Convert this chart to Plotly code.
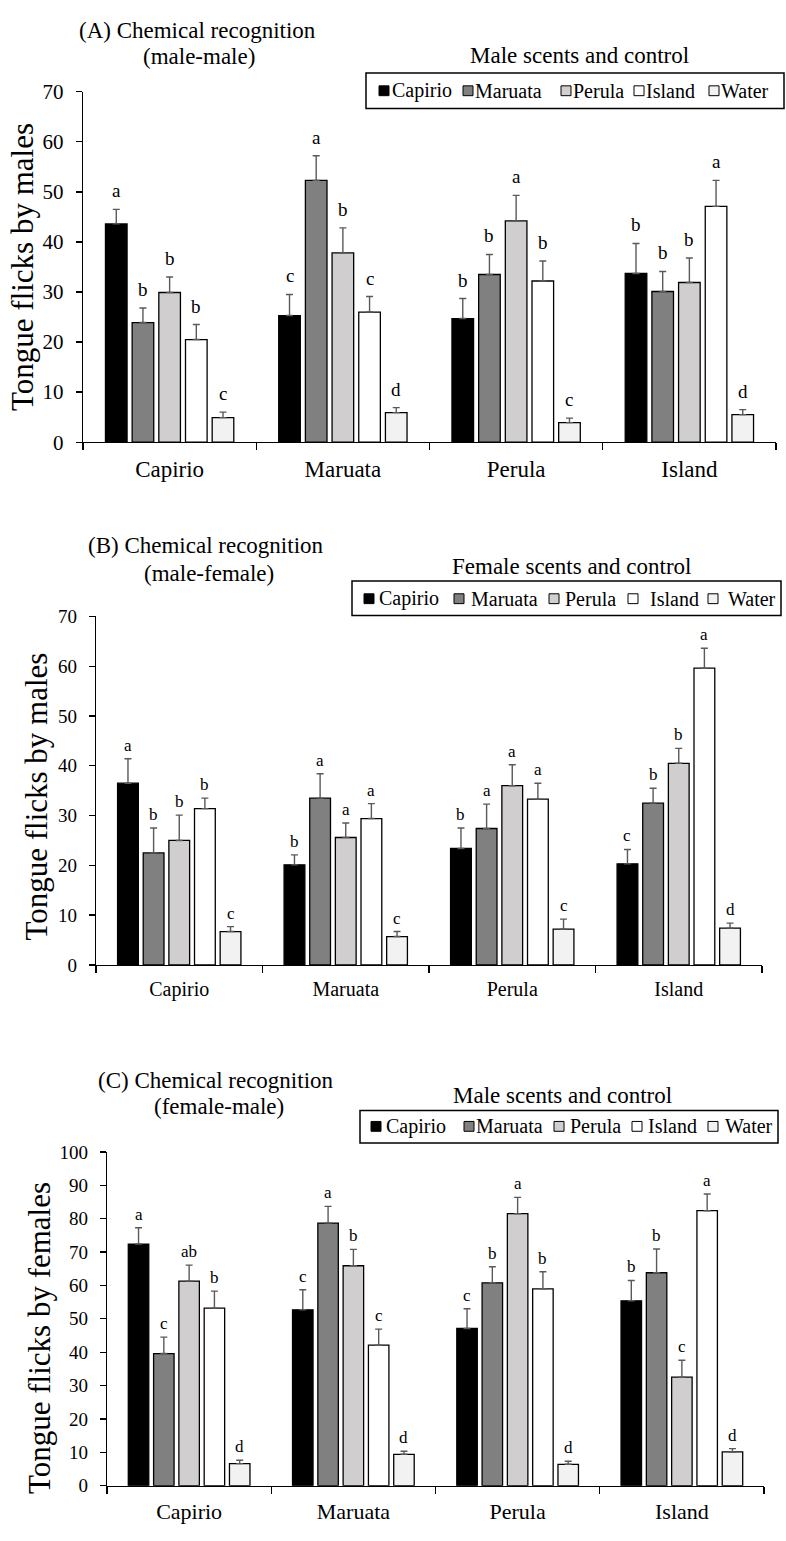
import plotly.graph_objects as go

W, H = 786, 1541
FONT = "Liberation Serif, Times New Roman, serif"

# ---------------- data ----------------
categories = ["Capirio", "Maruata", "Perula", "Island"]
series_names = ["Capirio", "Maruata", "Perula", "Island", "Water"]
series_colors = ["#000000", "#808080", "#d0cece", "#ffffff", "#f2f2f2"]

# Panel A: male-male, tongue flicks by males (male scents and control)
a_capirio = [43.6, 25.3, 24.7, 33.7]
a_maruata = [23.9, 52.3, 33.5, 30.1]
a_perula = [29.9, 37.8, 44.2, 31.9]
a_island = [20.5, 26.0, 32.2, 47.1]
a_water = [4.9, 5.9, 3.9, 5.5]
a_capirio_se = [2.9, 4.2, 4.0, 6.0]
a_maruata_se = [2.9, 4.9, 4.0, 4.0]
a_perula_se = [3.1, 5.0, 5.1, 4.9]
a_island_se = [3.0, 3.1, 4.0, 5.2]
a_water_se = [1.1, 1.0, 0.9, 1.0]
a_capirio_lab = ["a", "c", "b", "b"]
a_maruata_lab = ["b", "a", "b", "b"]
a_perula_lab = ["b", "b", "a", "b"]
a_island_lab = ["b", "c", "b", "a"]
a_water_lab = ["c", "d", "c", "d"]

# Panel B: male-female, tongue flicks by males (female scents and control)
b_capirio = [36.5, 20.1, 23.4, 20.3]
b_maruata = [22.5, 33.5, 27.4, 32.5]
b_perula = [25.0, 25.6, 36.0, 40.5]
b_island = [31.4, 29.4, 33.3, 59.6]
b_water = [6.7, 5.7, 7.2, 7.4]
b_capirio_se = [4.9, 2.0, 4.1, 2.9]
b_maruata_se = [5.0, 4.9, 4.9, 3.0]
b_perula_se = [5.1, 2.9, 4.2, 3.0]
b_island_se = [2.1, 3.0, 3.2, 4.0]
b_water_se = [1.0, 1.0, 2.0, 1.0]
b_capirio_lab = ["a", "b", "b", "c"]
b_maruata_lab = ["b", "a", "a", "b"]
b_perula_lab = ["b", "a", "a", "b"]
b_island_lab = ["b", "a", "a", "a"]
b_water_lab = ["c", "c", "c", "d"]

# Panel C: female-male, tongue flicks by females (male scents and control)
c_capirio = [72.4, 52.7, 47.1, 55.4]
c_maruata = [39.6, 78.7, 60.8, 63.8]
c_perula = [61.3, 65.9, 81.5, 32.5]
c_island = [53.2, 42.1, 59.0, 82.4]
c_water = [6.6, 9.4, 6.4, 10.1]
c_capirio_se = [4.9, 6.0, 5.9, 6.1]
c_maruata_se = [4.9, 5.0, 4.8, 7.1]
c_perula_se = [4.8, 4.9, 4.9, 5.1]
c_island_se = [5.1, 4.8, 5.1, 5.0]
c_water_se = [1.0, 0.9, 0.9, 1.0]
c_capirio_lab = ["a", "c", "c", "b"]
c_maruata_lab = ["c", "a", "b", "b"]
c_perula_lab = ["ab", "b", "a", "c"]
c_island_lab = ["b", "c", "b", "a"]
c_water_lab = ["d", "d", "d", "d"]

panel_titles = [("(A) Chemical recognition", "(male-male)"),
                ("(B) Chemical recognition", "(male-female)"),
                ("(C) Chemical recognition", "(female-male)")]
legend_titles = ["Male scents and control", "Female scents and control", "Male scents and control"]
y_titles = ["Tongue flicks by males", "Tongue flicks by males", "Tongue flicks by females"]
y_max = [70, 70, 100]

# --------------- layout geometry (pixels) ---------------
def xp(px):
    return px / W

def yp(py):
    return 1 - py / H

BARGAP = 0.23
BARGROUPGAP = 0.19

panels = [
    dict(means=[a_capirio, a_maruata, a_perula, a_island, a_water],
         errs=[a_capirio_se, a_maruata_se, a_perula_se, a_island_se, a_water_se],
         labs=[a_capirio_lab, a_maruata_lab, a_perula_lab, a_island_lab, a_water_lab],
         plot=(83, 776, 81, 437), tick_fs=21, cat_fs=23, let_fs=19, let_shift=6,
         title_pos=[(198, 19), (198.5, 45)], ytitle_pos=(23, 259),
         leg_box=(366, 784, 62, 98), leg_title=(579, 44), leg_cy=80,
         leg_sq=[379, 463, 561, 634, 709], leg_tx=[390, 473, 571, 644, 719]),
    dict(means=[b_capirio, b_maruata, b_perula, b_island, b_water],
         errs=[b_capirio_se, b_maruata_se, b_perula_se, b_island_se, b_water_se],
         labs=[b_capirio_lab, b_maruata_lab, b_perula_lab, b_island_lab, b_water_lab],
         plot=(96, 762, 614, 968), tick_fs=19, cat_fs=20, let_fs=17, let_shift=2,
         title_pos=[(206, 542), (209, 570)], ytitle_pos=(37, 797),
         leg_box=(352, 781, 578, 613), leg_title=(572, 563), leg_cy=596,
         leg_sq=[364, 454, 549, 628, 708], leg_tx=[377, 469, 563, 648, 726]),
    dict(means=[c_capirio, c_maruata, c_perula, c_island, c_water],
         errs=[c_capirio_se, c_maruata_se, c_perula_se, c_island_se, c_water_se],
         labs=[c_capirio_lab, c_maruata_lab, c_perula_lab, c_island_lab, c_water_lab],
         plot=(107, 764, 1158, 1497), tick_fs=19, cat_fs=22, let_fs=17, let_shift=2,
         title_pos=[(216, 1085), (219, 1112)], ytitle_pos=(39, 1347),
         leg_box=(360, 778, 1116, 1149), leg_title=(562, 1101), leg_cy=1132,
         leg_sq=[371, 464, 554, 632, 708], leg_tx=[384, 474, 568, 646, 723]),
]

fig = go.Figure()
annotations = []
shapes = []
layout_axes = {}

for k, p in enumerate(panels):
    sfx = "" if k == 0 else str(k + 1)
    xa, ya = "x" + sfx, "y" + sfx
    x0, x1, y0, y1 = p["plot"]
    for i, name in enumerate(series_names):
        fig.add_trace(go.Bar(
            x=categories, y=p["means"][i], name=name,
            xaxis=xa, yaxis=ya, showlegend=False,
            marker=dict(color=series_colors[i], line=dict(color="black", width=1.3)),
            error_y=dict(type="data", array=p["errs"][i], arrayminus=[0] * len(categories),
                         symmetric=False, color="#595959", thickness=1.4, width=3.5),
        ))
    # significance letters above error bars
    cat_w = (x1 - x0) / len(categories)
    slot = (1 - BARGAP) * cat_w / len(series_names)
    for i in range(len(series_names)):
        off = (i - (len(series_names) - 1) / 2) * slot
        for j, c in enumerate(categories):
            annotations.append(dict(
                x=c, y=p["means"][i][j] + p["errs"][i][j], xref=xa, yref=ya,
                text=p["labs"][i][j], showarrow=False, xanchor="center", yanchor="bottom",
                xshift=off, yshift=p["let_shift"],
                font=dict(family=FONT, size=p["let_fs"], color="black")))
    layout_axes["xaxis" + sfx] = dict(
        domain=[xp(x0), xp(x1)], anchor=ya, type="category",
        showline=True, linecolor="black", linewidth=1.3, mirror=False,
        ticks="outside", tickson="boundaries", ticklen=7, tickwidth=1.3, tickcolor="black",
        ticklabelstandoff=6, showgrid=False, zeroline=False,
        tickfont=dict(family=FONT, size=p["cat_fs"], color="black"))
    layout_axes["yaxis" + sfx] = dict(
        domain=[yp(y1), yp(y0)], anchor=xa, range=[0, y_max[k]], dtick=10,
        showline=True, linecolor="black", linewidth=1.3,
        ticks="outside", ticklen=6, tickwidth=1.3, tickcolor="black",
        ticklabelstandoff=8, showgrid=False, zeroline=False,
        tickfont=dict(family=FONT, size=p["tick_fs"], color="black"))
    # panel titles
    for txt, (tx, ty) in zip(panel_titles[k], p["title_pos"]):
        annotations.append(dict(x=xp(tx), y=yp(ty), xref="paper", yref="paper", text=txt,
                                showarrow=False, xanchor="center", yanchor="middle",
                                font=dict(family=FONT, size=23, color="black")))
    # y axis title
    annotations.append(dict(x=xp(p["ytitle_pos"][0]), y=yp(p["ytitle_pos"][1]), xref="paper",
                            yref="paper", text=y_titles[k], textangle=-90, showarrow=False,
                            xanchor="center", yanchor="middle",
                            font=dict(family=FONT, size=31, color="black")))
    # legend (box, title, squares, labels)
    bx0, bx1, by0, by1 = p["leg_box"]
    shapes.append(dict(type="rect", xref="paper", yref="paper", x0=xp(bx0), x1=xp(bx1),
                       y0=yp(by1), y1=yp(by0), line=dict(color="black", width=1.5),
                       fillcolor="rgba(0,0,0,0)"))
    annotations.append(dict(x=xp(p["leg_title"][0]), y=yp(p["leg_title"][1]), xref="paper",
                            yref="paper", text=legend_titles[k], showarrow=False,
                            xanchor="center", yanchor="middle",
                            font=dict(family=FONT, size=23, color="black")))
    cy = p["leg_cy"]
    for i, name in enumerate(series_names):
        sx = p["leg_sq"][i]
        shapes.append(dict(type="rect", xref="paper", yref="paper", x0=xp(sx), x1=xp(sx + 10),
                           y0=yp(cy + 5), y1=yp(cy - 5), fillcolor=series_colors[i],
                           line=dict(color="black", width=1)))
        annotations.append(dict(x=xp(p["leg_tx"][i]), y=yp(cy), xref="paper", yref="paper",
                                text=name, showarrow=False, xanchor="left", yanchor="middle",
                                font=dict(family=FONT, size=20, color="black")))

fig.update_layout(
    width=W, height=H, autosize=False,
    margin=dict(l=0, r=0, t=0, b=0),
    paper_bgcolor="white", plot_bgcolor="white",
    barmode="group", bargap=BARGAP, bargroupgap=BARGROUPGAP,
    showlegend=False,
    font=dict(family=FONT, color="black"),
    annotations=annotations, shapes=shapes,
    **layout_axes,
)

# pin the figure to the window's top-left corner (no default page margin)
pin_js = (
    "document.documentElement.style.margin='0';"
    "document.body.style.margin='0';"
    "document.documentElement.style.overflow='hidden';"
    "document.body.style.overflow='hidden';"
    "var gd=document.getElementById('{plot_id}');"
    "gd.style.position='fixed';gd.style.left='0px';gd.style.top='0px';"
)

fig.write_html("out.html", post_script=pin_js,
               config={"displayModeBar": False, "staticPlot": True})
